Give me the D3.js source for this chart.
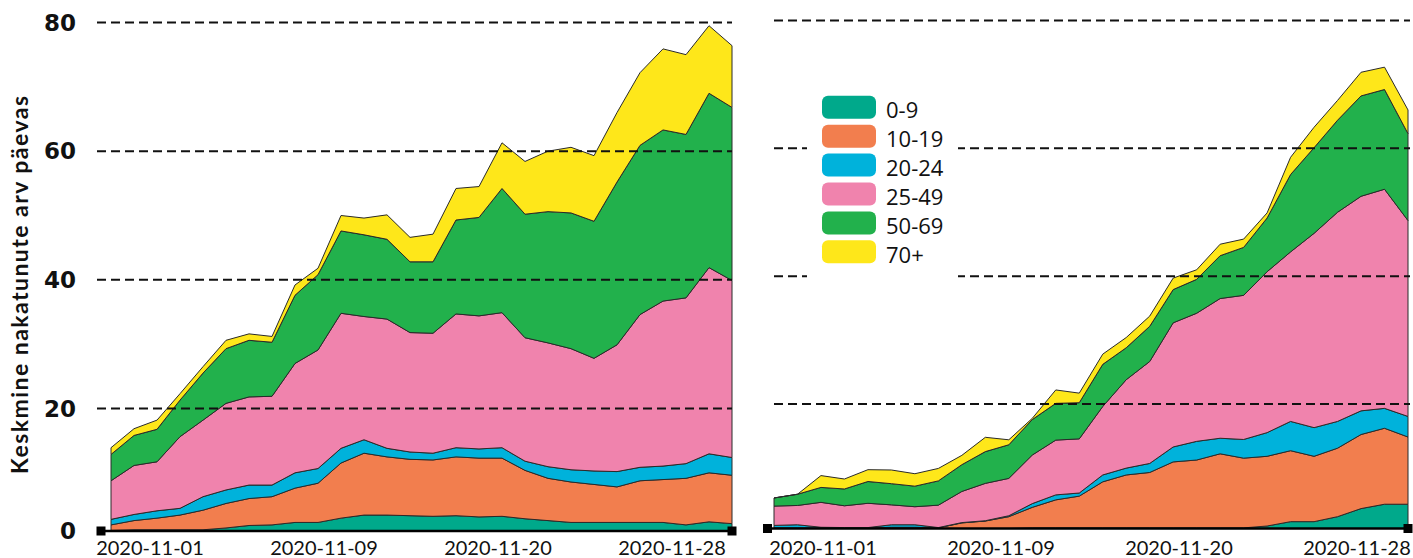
<!DOCTYPE html>
<html>
<head>
<meta charset="utf-8">
<script src="https://cdn.jsdelivr.net/npm/d3@7"></script>
<style>
  body { margin: 0; background: #fff; }
  svg { display: block; }
</style>
</head>
<body>
<svg id="chart" width="1413" height="558"></svg>
<script>
"use strict";

var ageGroups = ["0-9", "10-19", "20-24", "25-49", "50-69", "70+"];
var ageColors = ["#00a98b", "#f27e4e", "#00b2db", "#f083ad", "#22b14c", "#fee71a"];
var dateLabels = ["2020-11-01", "2020-11-09", "2020-11-20", "2020-11-28"];
var yTicks = [0, 20, 40, 60, 80];
var yTitle = "Keskmine nakatunute arv päevas";

// Left panel, one array per age group (daily average).
var leftAge0to9   = [0.1, 0.2, 0.2, 0.2, 0.2, 0.5, 0.9, 1.0, 1.4, 1.4, 2.1, 2.6, 2.6, 2.5, 2.4, 2.5, 2.3, 2.4, 2.0, 1.7, 1.4, 1.4, 1.4, 1.4, 1.4, 1.0, 1.5, 1.2];
var leftAge10to19 = [0.9, 1.5, 1.9, 2.4, 3.2, 4.0, 4.4, 4.6, 5.6, 6.4, 9.0, 10.1, 9.5, 9.2, 9.2, 9.6, 9.6, 9.5, 7.9, 6.9, 6.6, 6.2, 5.8, 6.8, 7.0, 7.6, 8.0, 7.9];
var leftAge20to24 = [0.9, 1.0, 1.2, 1.1, 2.2, 2.2, 2.2, 1.9, 2.5, 2.4, 2.4, 2.2, 1.4, 1.2, 1.1, 1.5, 1.5, 1.7, 1.5, 1.9, 2.0, 2.2, 2.5, 2.2, 2.2, 2.4, 3.1, 2.9];
var leftAge25to49 = [6.3, 8.0, 8.0, 11.7, 12.5, 14.1, 14.3, 14.4, 17.5, 18.9, 21.3, 19.4, 20.4, 18.9, 19.0, 21.1, 21.0, 21.3, 19.6, 19.7, 19.3, 18.0, 20.2, 24.2, 26.1, 26.2, 29.3, 27.9];
var leftAge50to69 = [4.3, 4.9, 5.3, 5.9, 7.4, 8.5, 8.8, 8.4, 10.6, 11.7, 12.8, 12.7, 12.4, 11.0, 11.1, 14.6, 15.3, 19.3, 19.2, 20.4, 21.1, 21.3, 25.3, 26.3, 26.6, 25.4, 27.1, 26.9];
var leftAge70plus = [1.1, 1.1, 1.5, 1.0, 1.0, 1.3, 1.0, 0.9, 1.6, 1.0, 2.4, 2.6, 3.8, 3.8, 4.3, 4.9, 4.8, 7.1, 8.2, 9.4, 10.2, 10.2, 10.8, 11.3, 12.6, 12.4, 10.5, 9.6];

// Right panel.
var rightAge0to9   = [0, 0, 0, 0, 0, 0, 0, 0, 0, 0, 0, 0.1, 0.1, 0.1, 0.1, 0.1, 0.1, 0.1, 0.1, 0.1, 0.1, 0.4, 1.1, 1.1, 1.9, 3.2, 3.9, 3.9];
var rightAge10to19 = [0.1, 0.1, 0.1, 0.1, 0.1, 0.2, 0.2, 0.1, 0.9, 1.2, 1.9, 3.3, 4.5, 5.1, 7.4, 8.5, 8.9, 10.6, 10.9, 11.9, 11.2, 11.2, 11.4, 10.5, 11.0, 11.9, 12.2, 10.8];
var rightAge20to24 = [0.4, 0.5, 0.1, 0.05, 0.05, 0.4, 0.4, 0.05, 0.05, 0.05, 0.15, 0.6, 0.8, 0.5, 1.1, 1.1, 1.45, 2.4, 3.0, 2.5, 3.0, 3.8, 4.7, 4.6, 4.3, 3.8, 3.2, 3.3];
var rightAge25to49 = [3.1, 3.1, 4.0, 3.5, 3.9, 3.2, 2.9, 3.6, 5.0, 6.0, 6.0, 7.8, 8.8, 8.7, 11.0, 14.1, 16.2, 19.6, 20.2, 22.0, 22.7, 25.3, 26.6, 30.5, 32.8, 33.6, 34.3, 30.7];
var rightAge50to69 = [1.3, 1.8, 2.4, 2.7, 3.5, 3.4, 3.3, 3.9, 4.3, 5.1, 5.4, 5.7, 5.9, 5.8, 6.6, 5.0, 5.5, 5.2, 5.3, 6.7, 7.5, 8.4, 12.1, 13.4, 14.4, 15.7, 15.6, 13.6];
var rightAge70plus = [0, 0, 1.9, 1.6, 1.9, 2.2, 2.0, 2.0, 1.5, 2.3, 0.8, 0.2, 2.1, 1.5, 1.6, 1.6, 1.6, 1.8, 1.5, 1.8, 1.3, 0.8, 2.7, 3.2, 3.1, 3.7, 3.5, 3.7];

var svg = d3.select("#chart");

// Turn the six arrays into rows that d3.stack understands.
function toRows(seriesList) {
  var rows = [];
  for (var i = 0; i < seriesList[0].length; i++) {
    var row = {};
    for (var j = 0; j < ageGroups.length; j++) {
      row[ageGroups[j]] = seriesList[j][i];
    }
    rows.push(row);
  }
  return rows;
}

//  drawPanel stacks the age groups and draws areas, dashed grid,
//  base line with its end squares and the date labels.
function drawPanel(seriesList, o) {
  var rows = toRows(seriesList);
  var x = d3.scaleLinear().domain([0, rows.length - 1]).range(o.xRange);
  var y = d3.scaleLinear().domain([0, 20, 80]).range(o.yRange);

  var stacked = d3.stack().keys(ageGroups)(rows);
  var area = d3.area()
    .x(function(d, i) { return x(i); })
    .y0(function(d) { return y(d[0]); })
    .y1(function(d) { return y(d[1]); });

  var g = svg.append("g");
  g.selectAll("path.layer")
    .data(stacked)
    .enter().append("path")
      .attr("class", "layer")
      .attr("d", area)
      .attr("fill", function(d, i) { return ageColors[i]; })
      .attr("stroke", "#2a2a2a")
      .attr("stroke-width", 1)
      .attr("stroke-linejoin", "round");

  g.selectAll("line.grid")
    .data(yTicks.slice(1))
    .enter().append("line")
      .attr("class", "grid")
      .attr("x1", o.gridX[0]).attr("x2", o.gridX[1])
      .attr("y1", function(d) { return y(d); })
      .attr("y2", function(d) { return y(d); })
      .attr("stroke", "#111")
      .attr("stroke-width", 2)
      .attr("stroke-dasharray", "9,5");

  // base line with small squares at both ends
  g.append("line")
    .attr("x1", o.baseX[0]).attr("x2", o.baseX[1])
    .attr("y1", y(0)).attr("y2", y(0))
    .attr("stroke", "#000").attr("stroke-width", 2.5);
  g.selectAll("rect.end")
    .data(o.baseX)
    .enter().append("rect")
      .attr("class", "end")
      .attr("x", function(d) { return d - 4.5; })
      .attr("y", y(0) - 4.5)
      .attr("width", 9).attr("height", 9)
      .attr("fill", "#000");

  var xl = d3.scalePoint().domain(dateLabels).range(o.labelRange);
  g.selectAll("text.date")
    .data(dateLabels)
    .enter().append("text")
      .attr("class", "date")
      .attr("x", function(d) { return xl(d); })
      .attr("y", 555)
      .attr("text-anchor", "middle")
      .style("font-family", "Lato, sans-serif")
      .style("font-size", "20px")
      .attr("fill", "#111")
      .text(function(d) { return d; });

  if (o.showTicks) {
    g.selectAll("text.tick")
      .data(yTicks)
      .enter().append("text")
        .attr("class", "tick")
        .attr("x", 76)
        .attr("y", function(d) { return y(d); })
        .attr("dy", "0.36em")
        .attr("text-anchor", "end")
        .style("font-family", "'DejaVu Sans', sans-serif")
        .style("font-weight", "bold")
        .style("font-size", "23px")
        .attr("fill", "#111")
        .text(function(d) { return d; });
  }
  return g;
}

drawPanel([leftAge0to9, leftAge10to19, leftAge20to24, leftAge25to49, leftAge50to69, leftAge70plus], {
  xRange: [111, 732], yRange: [531, 408.5, 22.5],
  gridX: [97, 732], baseX: [101, 732], labelRange: [150, 672], showTicks: true
});

drawPanel([rightAge0to9, rightAge10to19, rightAge20to24, rightAge25to49, rightAge50to69, rightAge70plus], {
  xRange: [774, 1408], yRange: [528.5, 404, 20.5],
  gridX: [774, 1410], baseX: [767.5, 1408], labelRange: [823, 1357], showTicks: false
});

// Y title is stretched to the same length as in the original.
svg.append("text")
  .attr("transform", "translate(28,285) rotate(-90)")
  .attr("text-anchor", "middle")
  .attr("textLength", 378)
  .attr("lengthAdjust", "spacing")
  .style("font-family", "Lato, sans-serif")
  .style("font-weight", "bold")
  .style("font-size", "23px")
  .attr("fill", "#111")
  .text(yTitle);

// Legend sits on a white box over the right panel grid.
var legend = svg.append("g");
legend.append("rect")
  .attr("x", 807).attr("y", 85).attr("width", 151).attr("height", 200)
  .attr("fill", "#fff");
var items = legend.selectAll("g.item")
  .data(ageGroups)
  .enter().append("g")
    .attr("class", "item")
    .attr("transform", function(d, i) { return "translate(822," + (107.3 + i * 28.9) + ")"; });
items.append("rect")
  .attr("x", 0).attr("y", -11.5)
  .attr("width", 54).attr("height", 23)
  .attr("rx", 6)
  .attr("fill", function(d, i) { return ageColors[i]; });
items.append("text")
  .attr("x", 64).attr("y", 11)
  .style("font-family", "'Open Sans', sans-serif")
  .style("font-size", "22px")
  .attr("fill", "#111")
  .text(function(d) { return d; });
</script>
</body>
</html>
